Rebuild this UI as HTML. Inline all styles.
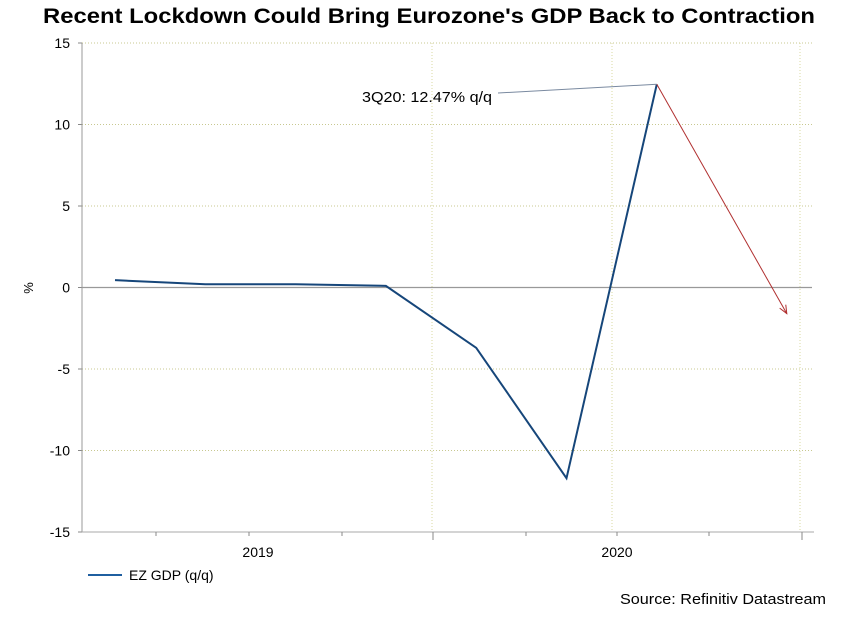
<!DOCTYPE html>
<html><head><meta charset="utf-8"><style>
body{margin:0;background:#fff;width:852px;height:615px;overflow:hidden;font-family:"Liberation Sans",sans-serif}
</style></head><body>
<svg width="852" height="615" font-family="Liberation Sans, sans-serif">
<text x="43" y="23" font-size="21" font-weight="bold" textLength="772" lengthAdjust="spacingAndGlyphs">Recent Lockdown Could Bring Eurozone's GDP Back to Contraction</text>
<g id="grid"></g>
<g id="axes"></g>
<g id="series"></g>
<text x="33" y="288" font-size="13" text-anchor="middle" transform="rotate(-90 33 288)">%</text>
<line x1="88" y1="575" x2="122" y2="575" stroke="#1f5fa0" stroke-width="2"/>
<text x="129" y="580" font-size="14">EZ GDP (q/q)</text>
<text x="620" y="604" font-size="15" textLength="206" lengthAdjust="spacingAndGlyphs">Source: Refinitiv Datastream</text>
</svg>
<script>
const quarters=["1Q19","2Q19","3Q19","4Q19","1Q20","2Q20","3Q20"];
const gdp=[0.45,0.2,0.2,0.1,-3.7,-11.7,12.47];
const forecast=[12.47,-1.6];
const yTicks=[15,10,5,0,-5,-10,-15];
const yearLabels=["2019","2020"];
const NS="http://www.w3.org/2000/svg";
const X0=82,X1=812,Y0=43,Y1=532;
function y(v){return Y0+(15-v)/30*(Y1-Y0);}
function x(i){return 115+i*90.3;}
function mk(t,a,p){const e=document.createElementNS(NS,t);for(const k in a)e.setAttribute(k,a[k]);p.appendChild(e);return e;}
const g=document.getElementById('grid'),ax=document.getElementById('axes'),s=document.getElementById('series');
yTicks.forEach(v=>{
 if(v!==0&&v!==-15){const l=mk('line',{x1:X0,x2:X1,y1:y(v),y2:y(v),stroke:'#c8c890','stroke-dasharray':'1,2'},g);
 
 }
 const t=mk('text',{x:70,y:y(v)+5,'text-anchor':'end','font-size':14},ax);t.textContent=v;
 
 
 mk('line',{x1:X0-4,x2:X0,y1:y(v),y2:y(v),stroke:'#888'},ax);
});
[432,612,800].forEach(px=>{const l=mk('line',{x1:px,x2:px,y1:Y0,y2:Y1,stroke:'#d8d8a0','stroke-dasharray':'1,2'},g);
 
 });
mk('line',{x1:X0,x2:X1,y1:y(0),y2:y(0),stroke:'#999','stroke-width':1.2},ax);
mk('line',{x1:X0,x2:X0,y1:Y0,y2:Y1,stroke:'#999'},ax);
mk('line',{x1:X0,x2:X1+2,y1:Y1,y2:Y1,stroke:'#aaa'},ax);
[156,249,342,433,526,617,709,802].forEach((px,i)=>mk('line',{x1:px,x2:px,y1:Y1,y2:Y1+(i%4==3?8:4),stroke:'#888'},ax));
yearLabels.forEach((lab,i)=>{const t=mk('text',{x:[258,617][i],y:557,'text-anchor':'middle','font-size':14},ax);t.textContent=lab;
 
 });
const p=mk('polyline',{points:gdp.map((v,i)=>x(i)+','+y(v)).join(' '),fill:'none',stroke:'#16467a','stroke-width':2},s);


const last=gdp.length-1;
const fx1=x(last),fy1=y(forecast[0]),fx2=x(last)+130,fy2=y(forecast[1]);
const fl=mk('line',{x1:fx1,y1:fy1,x2:fx2,y2:fy2,stroke:'#b03030','stroke-width':1},s);


const ang=Math.atan2(fy2-fy1,fx2-fx1);
mk('polyline',{points:`${fx2-9*Math.cos(ang-0.4)},${fy2-9*Math.sin(ang-0.4)} ${fx2},${fy2} ${fx2-9*Math.cos(ang+0.4)},${fy2-9*Math.sin(ang+0.4)}`,fill:'none',stroke:'#b03030'},s);
const al=mk('line',{x1:498,y1:93,x2:fx1,y2:fy1,stroke:'#7a8aa0'},s);


const at=mk('text',{x:362,y:102,'font-size':15,textLength:130,lengthAdjust:'spacingAndGlyphs'},s);at.textContent="3Q20: "+gdp[last]+"% q/q";


</script>
</body></html>
